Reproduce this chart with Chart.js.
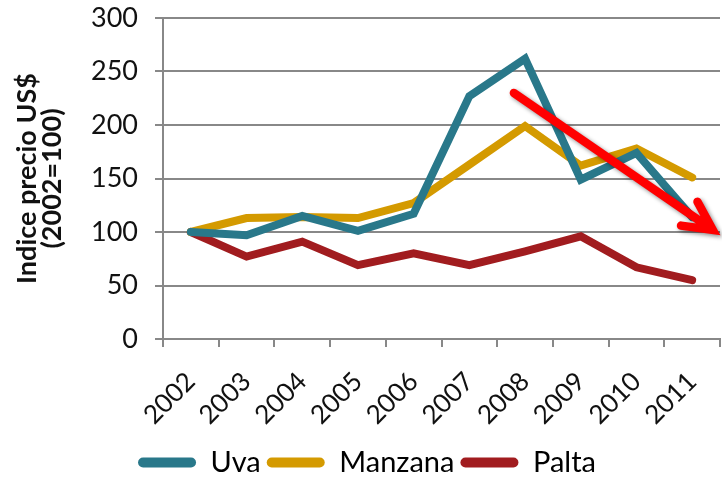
<!DOCTYPE html>
<html>
<head>
<meta charset="utf-8">
<script src="https://cdn.jsdelivr.net/npm/chart.js@4.4.1/dist/chart.umd.min.js"></script>
<style>
  body { margin: 0; background: #fff; }
  #wrap { width: 722px; height: 478px; }
</style>
</head>
<body>
<div id="wrap"><canvas id="myChart"></canvas></div>
<script>
const years = ["2002", "2003", "2004", "2005", "2006", "2007", "2008", "2009", "2010", "2011"];
const uva = [100, 97, 115, 101, 117, 227, 262, 149, 174, 114];
const manzana = [100, 113, 114, 113, 127, 163, 199, 162, 178, 151];
const palta = [100, 77, 91, 69, 80, 69, 82, 96, 67, 55];
const yTicks = [0, 50, 100, 150, 200, 250, 300];
// trend arrow, in data units (category index, value)
const arrowFrom = [5.8, 230];
const arrowTo = [9.37, 102];

const font = "Lato, 'DejaVu Sans', sans-serif";

const arrowPlugin = {
  id: "arrow",
  afterDatasetsDraw(chart) {
    const x = chart.scales.x;
    const y = chart.scales.y;
    const step = x.getPixelForValue(1) - x.getPixelForValue(0);
    const x1 = x.getPixelForValue(0) + arrowFrom[0] * step;
    const y1 = y.getPixelForValue(arrowFrom[1]);
    const x2 = x.getPixelForValue(0) + arrowTo[0] * step;
    const y2 = y.getPixelForValue(arrowTo[1]);
    const ang = Math.atan2(y2 - y1, x2 - x1);
    const head = 32, spread = 0.47;
    const c = chart.ctx;
    c.save();
    c.shadowColor = "rgba(0,0,0,0.45)";
    c.shadowBlur = 4;
    c.shadowOffsetX = 2;
    c.shadowOffsetY = 2;
    c.strokeStyle = "#ff0000";
    c.lineWidth = 8.5;
    c.lineCap = "round";
    c.lineJoin = "miter";
    c.beginPath();
    c.moveTo(x1, y1);
    c.lineTo(x2 - 5 * Math.cos(ang), y2 - 5 * Math.sin(ang));
    c.moveTo(x2 - head * Math.cos(ang - spread), y2 - head * Math.sin(ang - spread));
    c.lineTo(x2, y2);
    c.lineTo(x2 - head * Math.cos(ang + spread), y2 - head * Math.sin(ang + spread));
    c.stroke();
    c.restore();
  }
};

const ctx = document.getElementById("myChart");
new Chart(ctx, {
  type: "line",
  data: {
    labels: years,
    datasets: [
      { label: "Uva", data: uva, borderColor: "#29788a", backgroundColor: "#29788a" },
      { label: "Manzana", data: manzana, borderColor: "#d49a00", backgroundColor: "#d49a00" },
      { label: "Palta", data: palta, borderColor: "#a11c1f", backgroundColor: "#a11c1f" },
    ],
  },
  options: {
    responsive: true,
    maintainAspectRatio: false,
    animation: false,
    layout: { padding: { top: 18, right: 2, left: 14, bottom: -9 } },
    elements: {
      line: { borderWidth: 8, tension: 0, borderCapStyle: "round", borderJoinStyle: "miter" },
      point: { radius: 0 },
    },
    plugins: {
      tooltip: { enabled: false },
      legend: {
        position: "bottom",
        labels: {
          color: "#111",
          font: { family: font, size: 29 },
          boxWidth: 58,
          boxHeight: 10,
          padding: 6,
          useBorderRadius: true,
          borderRadius: 5,
          generateLabels(chart) {
            return chart.data.datasets.map((d, i) => ({
              text: d.label,
              fillStyle: d.borderColor,
              strokeStyle: d.borderColor,
              lineWidth: 0,
              borderRadius: 5,
              datasetIndex: i,
            }));
          },
        },
      },
    },
    scales: {
      x: {
        offset: true,
        afterFit(axis) {
          axis.height = 103;
          axis.paddingLeft = 0;
          axis.paddingRight = 0;
        },
        grid: { offset: true, drawOnChartArea: false, drawTicks: true, tickLength: 8, color: "#888", lineWidth: 2 },
        border: { display: true, color: "#888", width: 2 },
        ticks: { color: "#111", font: { family: font, size: 26 }, minRotation: 45, maxRotation: 45, padding: 19 },
      },
      y: {
        min: 0,
        max: 300,
        afterBuildTicks(axis) {
          axis.ticks = yTicks.map((v) => ({ value: v }));
        },
        afterFit(axis) {
          axis.width = 149;
          axis.paddingTop = 0;
          axis.paddingBottom = 0;
        },
        grid: { color: "#888", lineWidth: 2, tickLength: 8 },
        border: { display: true, color: "#888", width: 2 },
        ticks: { color: "#111", font: { family: font, size: 27 }, padding: 17 },
        title: {
          display: true,
          text: ["Indice precio US$", "(2002=100)"],
          color: "#111",
          font: { family: font, size: 27, weight: "bold", lineHeight: 0.95 },
          padding: { top: 0, bottom: 14 },
        },
      },
    },
  },
  plugins: [arrowPlugin],
});
</script>
</body>
</html>
